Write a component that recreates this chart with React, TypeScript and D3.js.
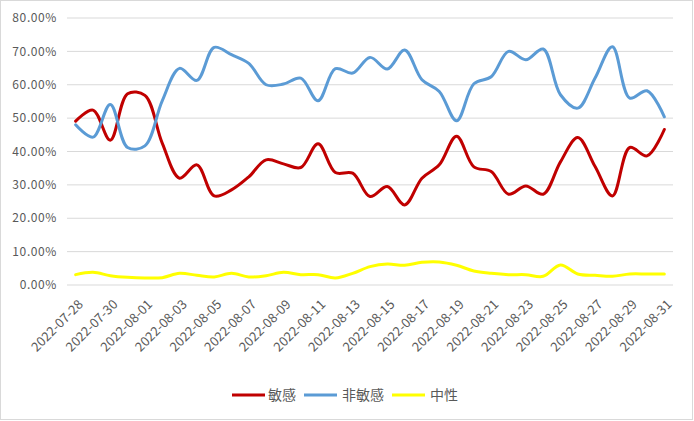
import React from 'react';
import * as d3 from 'd3';

const dates = [
  '2022-07-28', '2022-07-29', '2022-07-30', '2022-07-31', '2022-08-01', '2022-08-02', '2022-08-03',
  '2022-08-04', '2022-08-05', '2022-08-06', '2022-08-07', '2022-08-08', '2022-08-09', '2022-08-10',
  '2022-08-11', '2022-08-12', '2022-08-13', '2022-08-14', '2022-08-15', '2022-08-16', '2022-08-17',
  '2022-08-18', '2022-08-19', '2022-08-20', '2022-08-21', '2022-08-22', '2022-08-23', '2022-08-24',
  '2022-08-25', '2022-08-26', '2022-08-27', '2022-08-28', '2022-08-29', '2022-08-30', '2022-08-31',
];

// percentages
const sensitive = [
  49.1, 52.4, 43.4, 57.3, 56.8, 42.5, 32.0, 36.0, 26.7, 28.5, 32.4, 37.5, 36.3, 35.2, 42.3, 33.7, 33.5, 26.5,
  29.5, 24.0, 32.0, 36.0, 44.6, 35.4, 34.0, 27.2, 29.7, 27.2, 36.9, 44.2, 35.5, 26.7, 41.2, 38.7, 46.6,
];
const nonSensitive = [
  48.0, 44.3, 54.1, 41.2, 41.7, 55.2, 64.9, 61.3, 71.2, 69.0, 66.4, 60.0, 60.2, 62.0, 55.2, 64.8, 63.5, 68.2,
  64.7, 70.4, 61.5, 58.0, 49.2, 60.3, 62.4, 70.0, 67.5, 70.7, 57.0, 53.0, 62.0, 71.4, 56.0, 58.2, 50.4,
];
const neutral = [
  3.1, 3.8, 2.8, 2.3, 2.1, 2.2, 3.5, 2.9, 2.4, 3.5, 2.4, 2.8, 3.8, 3.1, 3.1, 2.1, 3.5, 5.5,
  6.3, 5.9, 6.8, 6.9, 5.9, 4.2, 3.5, 3.1, 3.1, 2.6, 6.0, 3.3, 2.9, 2.6, 3.3, 3.3, 3.3,
];

const yTicks = [0, 10, 20, 30, 40, 50, 60, 70, 80];

const seriesNames = ['敏感', '非敏感', '中性'];
const seriesColors = ['#C00000', '#5B9BD5', '#FFFF00'];

export default function App() {
  const width = 694;
  const height = 421;
  const plot = { left: 67, right: 673, top: 18, bottom: 285 };
  const font = '"Microsoft YaHei", "Noto Sans CJK SC", "DejaVu Sans", sans-serif';

  const x = d3.scaleBand().domain(dates).range([plot.left, plot.right]);
  const xc = (d: string) => (x(d) as number) + x.bandwidth() / 2;
  const y = d3.scaleLinear().domain([0, 80]).range([plot.bottom, plot.top]);

  const line = d3
    .line<number>()
    .x((d, i) => xc(dates[i]))
    .y((d) => y(d))
    .curve(d3.curveCatmullRom.alpha(0.5));

  const series = [sensitive, nonSensitive, neutral];

  // legend layout
  const legendItems = [
    { x: 232, textX: 268 },
    { x: 304, textX: 342 },
    { x: 392, textX: 430 },
  ];

  return (
    <svg width={width} height={height} style={{ position: 'absolute', left: 0, top: 0, fontFamily: font }}>
      <rect x={0.5} y={0.5} width={width - 2} height={height - 2} fill="#fff" stroke="#D9D9D9" />
      {yTicks.map((t) => (
        <g key={t}>
          <line x1={plot.left} x2={plot.right} y1={y(t)} y2={y(t)} stroke="#D9D9D9" strokeWidth={1} />
          <text x={57} y={y(t)} dy="0.35em" textAnchor="end" fontSize={12} letterSpacing={0.6} fill="#595959">
            {t.toFixed(2) + '%'}
          </text>
        </g>
      ))}
      {dates.map((d, i) =>
        i % 2 === 0 ? (
          <text
            key={d}
            transform={`translate(${xc(d) + 5} ${302}) rotate(-45)`}
            textAnchor="end"
            dy="0.35em"
            fontSize={13}
            fill="#595959"
          >
            {d}
          </text>
        ) : null
      )}
      {series.map((s, k) => (
        <path
          key={k}
          d={line(s) as string}
          fill="none"
          stroke={seriesColors[k]}
          strokeWidth={3}
          strokeLinejoin="round"
          strokeLinecap="round"
        />
      ))}
      {seriesNames.map((name, k) => (
        <g key={name}>
          <line
            x1={legendItems[k].x}
            x2={legendItems[k].x + 33}
            y1={395}
            y2={395}
            stroke={seriesColors[k]}
            strokeWidth={3}
          />
          <text x={legendItems[k].textX} y={395} dy="0.35em" fontSize={14} fill="#595959">
            {name}
          </text>
        </g>
      ))}
    </svg>
  );
}
